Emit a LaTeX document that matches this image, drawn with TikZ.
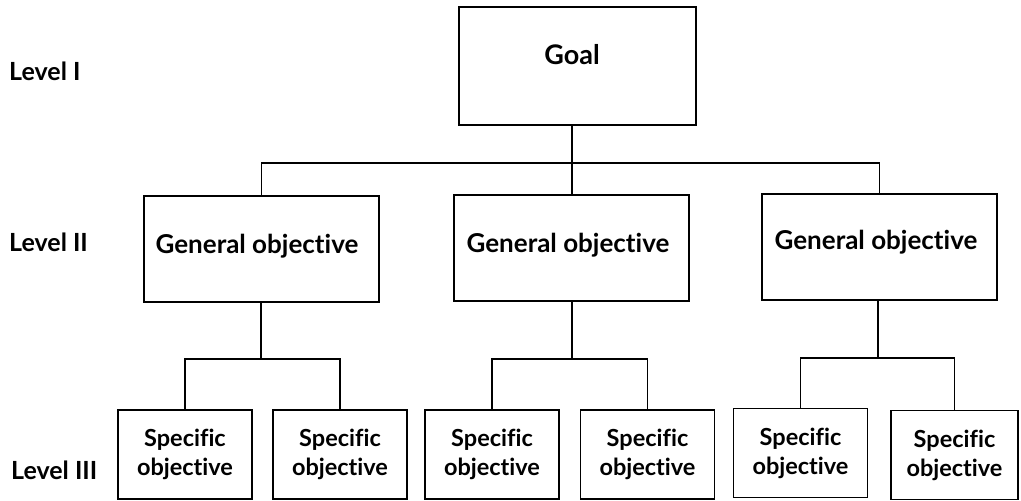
\documentclass[tikz,border=0pt]{standalone}
\usepackage{fontspec}
\setmainfont{Lato}[Ligatures={NoCommon}]
\begin{document}
\begin{tikzpicture}[x=1pt,y=-1pt,
  box/.style={draw=black, line width=1.2pt, fill=white, inner sep=0pt},
  txt/.style={font=\bfseries\fontsize{26}{28}\selectfont, inner sep=0pt, align=center},
  gtxt/.style={font=\bfseries\fontsize{27}{28}\selectfont, inner sep=0pt, align=center},
  stxt/.style={font=\bfseries\fontsize{23.5}{29}\selectfont, inner sep=0pt, align=center},
  lvl/.style={font=\bfseries\fontsize{25}{28}\selectfont, inner sep=0pt, anchor=west},
  conn/.style={line width=1.2pt}]
\useasboundingbox (0,0) rectangle (1021,501);
% level labels
\node[lvl] (l1) at (9,71) {Level I};
\node[lvl] (l2) at (9,242) {Level II};
\node[lvl] (l3) at (11,470) {Level III};
% goal
\node[box, minimum width=237pt, minimum height=118pt] (goal) at (577.5,66) {};
\node[gtxt] (goaltxt) at (572,55) {Goal};
% general objectives
\node[box, minimum width=235pt, minimum height=106pt] (g1) at (261.5,249) {};
\node[box, minimum width=235pt, minimum height=106pt] (g2) at (571.5,248) {};
\node[box, minimum width=235pt, minimum height=106pt] (g3) at (879.5,247) {};
\node[txt] (g1t) at (257,246) {General objective};
\node[txt] (g2t) at (568,245) {General objective};
\node[txt] (g3t) at (876,242) {General objective};
% specific objectives
\node[box, minimum width=134pt, minimum height=89pt, stxt] (b1) at (185,454.5) {Specific\\objective};
\node[box, minimum width=134pt, minimum height=89pt, stxt] (b2) at (340,454.5) {Specific\\objective};
\node[box, minimum width=134pt, minimum height=89pt, stxt] (b3) at (492,454.5) {Specific\\objective};
\node[box, minimum width=134pt, minimum height=89pt, stxt] (b4) at (647.5,454.5) {Specific\\objective};
\node[box, minimum width=134pt, minimum height=89pt, stxt] (b5) at (800.5,453) {Specific\\objective};
\node[box, minimum width=127pt, minimum height=89pt, stxt] (b6) at (954.5,455) {Specific\\objective};
% connectors level I -> II
\coordinate (bus) at (572,163);
\draw[conn] (bus |- goal.south) -- (bus);
\draw[conn] (g1.north) |- (bus) -| (g3.north);
\draw[conn] (bus) -- (bus |- g2.north);
% connectors level II -> III
\coordinate (j1) at (261,359);
\coordinate (j2) at (572,359);
\coordinate (j3) at (878,358);
\draw[conn] (j1 |- g1.south) -- (j1);
\draw[conn] (b1.north) |- (j1) -| (b2.north);
\draw[conn] (j2 |- g2.south) -- (j2);
\draw[conn] (b3.north) |- (j2) -| (b4.north);
\draw[conn] (j3 |- g3.south) -- (j3);
\draw[conn] (b5.north) |- (j3) -| (b6.north);
\end{tikzpicture}
\end{document}
